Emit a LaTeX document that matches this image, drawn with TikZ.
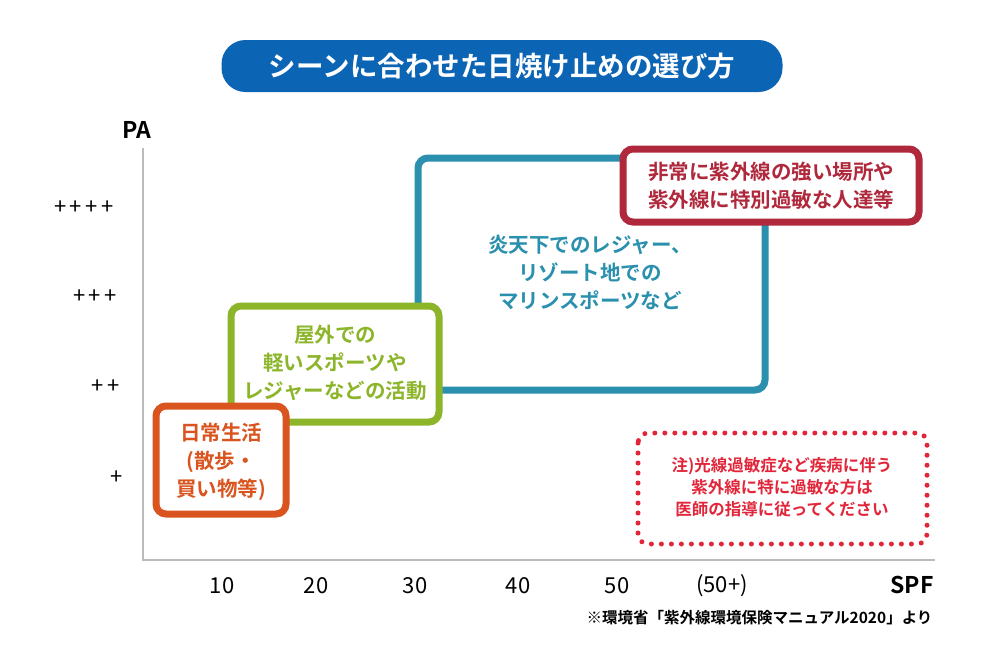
\documentclass[tikz,border=0pt]{standalone}
\usepackage{fontspec}
\setmainfont{Noto Sans CJK JP}[BoldFont={Noto Sans CJK JP Bold}]
\definecolor{tblue}{HTML}{0B64B4}
\definecolor{corange}{HTML}{D9541E}
\definecolor{cgreen}{HTML}{8CB52A}
\definecolor{cteal}{HTML}{2A90AE}
\definecolor{cred}{HTML}{B0283C}
\definecolor{cdot}{HTML}{E2263A}
\definecolor{axisgray}{HTML}{BBBBBB}
\begin{document}
\begin{tikzpicture}[x=1pt,y=-1pt,
  box/.style={draw=#1,line width=7pt,rounded corners=10pt,fill=white},
  lbl/.style={font=\fontsize{20.5}{28}\selectfont\bfseries,align=center,text=#1},
  tick/.style={font=\fontsize{22}{24}\selectfont,text=black}]
\useasboundingbox (0,0) rectangle (1004,657);
\fill[white] (0,0) rectangle (1004,657);
\node[fill=tblue,rounded corners=24pt,minimum width=561pt,minimum height=52pt,text=white,font=\fontsize{27.5}{30}\selectfont\bfseries] (title) at (502,66) {シーンに合わせた日焼け止めの選び方};
\coordinate (top) at (143,148);
\coordinate (org) at (143,560);
\coordinate (right) at (935,560);
\draw[axisgray,line width=1.5pt] (top) -- (org) -- (right);
\node[tick,font=\fontsize{23}{24}\selectfont\bfseries] (pa) at (137,130) {PA};
\node[tick,font=\fontsize{23}{24}\selectfont\bfseries] (spf) at (912,585) {SPF};
\node[tick] (y4) at (84,208) {+\,+\,+\,+};
\node[tick] (y3) at (95,297) {+\,+\,+};
\node[tick] (y2) at (106,387) {+\,+};
\node[tick] (y1) at (117,478) {+};
\node[tick] (x1) at (222,586) {10};
\node[tick] (x2) at (316,586) {20};
\node[tick] (x3) at (415,586) {30};
\node[tick] (x4) at (518,586) {40};
\node[tick] (x5) at (617,586) {50};
\node[tick] (x6) at (722,586) {(50+)};
\node[anchor=east,font=\fontsize{15.5}{18}\selectfont\bfseries] (src) at (936,618) {※環境省「紫外線環境保険マニュアル2020」より};
% teal
\draw[box=cteal] (418,158) rectangle (765,390);
\node[lbl=cteal] (tealtxt) at (590,272) {炎天下でのレジャー、\\リゾート地での\\マリンスポーツなど};
% green
\draw[box=cgreen] (231,306) rectangle (439,422);
\node[lbl=cgreen] (greentxt) at (335,363) {屋外での\\軽いスポーツや\\レジャーなどの活動};
% orange
\draw[box=corange] (156,406) rectangle (286,514);
\node[lbl=corange] (orangetxt) at (221,462) {日常生活\\(散歩・\\買い物等)};
% red
\draw[box=cred] (623,149) rectangle (919,222);
\node[lbl=cred] (redtxt) at (771,186) {非常に紫外線の強い場所や\\紫外線に特別過敏な人達等};
% dotted
\draw[cdot,line width=5pt,dash pattern=on 0pt off 10pt,line cap=round,rounded corners=10pt] (638,433) rectangle (927,544);
\node[lbl=cdot,font=\fontsize{16.5}{22}\selectfont\bfseries] (note) at (782,487) {注)光線過敏症など疾病に伴う\\紫外線に特に過敏な方は\\医師の指導に従ってください};
\end{tikzpicture}
\end{document}
